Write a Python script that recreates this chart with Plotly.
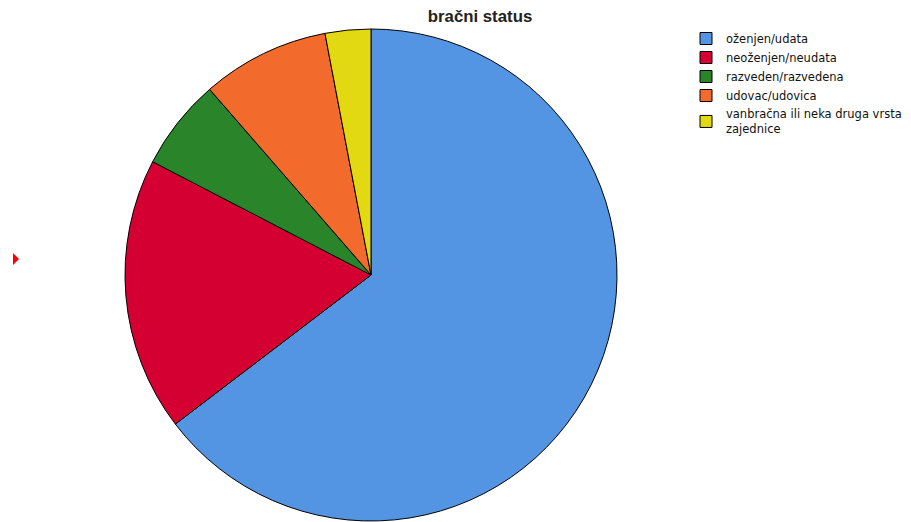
import plotly.graph_objects as go

labels = ["oženjen/udata", "neoženjen/neudata", "razveden/razvedena",
          "udovac/udovica", "vanbračna ili neka druga vrsta<br>zajednice"]
values = [64.7, 18.0, 6.0, 8.4, 3.0]
colors = ["#5495e3", "#d50032", "#2a852a", "#f26a2c", "#e3d913"]

W, H = 911, 522
cx, cy, r = 371, 275, 246

fig = go.Figure(go.Pie(
    labels=labels, values=values, sort=False, direction="clockwise", rotation=0,
    marker=dict(colors=colors, line=dict(color="#000000", width=1)),
    textinfo="none", hoverinfo="label+percent",
    domain=dict(x=[(cx - r) / W, (cx + r) / W], y=[(H - cy - r) / H, (H - cy + r) / H]),
))

fig.update_layout(
    width=W, height=H,
    margin=dict(l=0, r=0, t=0, b=0, autoexpand=False),
    paper_bgcolor="white", plot_bgcolor="white",
    title=dict(text="<b>bračni status</b>", x=480 / W, xanchor="center", y=1 - 16 / H, yanchor="middle",
               font=dict(family="Liberation Sans, Arial", size=16.8, color="#222")),
    legend=dict(x=686 / W, y=1 - 24 / H, xanchor="left", yanchor="top",
                font=dict(family="DejaVu Sans", size=11.5, color="#111"),
                itemwidth=30, tracegroupgap=0, bgcolor="rgba(0,0,0,0)"),
    shapes=[dict(type="path", xref="paper", yref="paper",
                 path=f"M {13/W} {1-253/H} L {19/W} {1-259/H} L {13/W} {1-265/H} Z",
                 fillcolor="red", line=dict(width=0))],
)

fig.write_html("out.html")
